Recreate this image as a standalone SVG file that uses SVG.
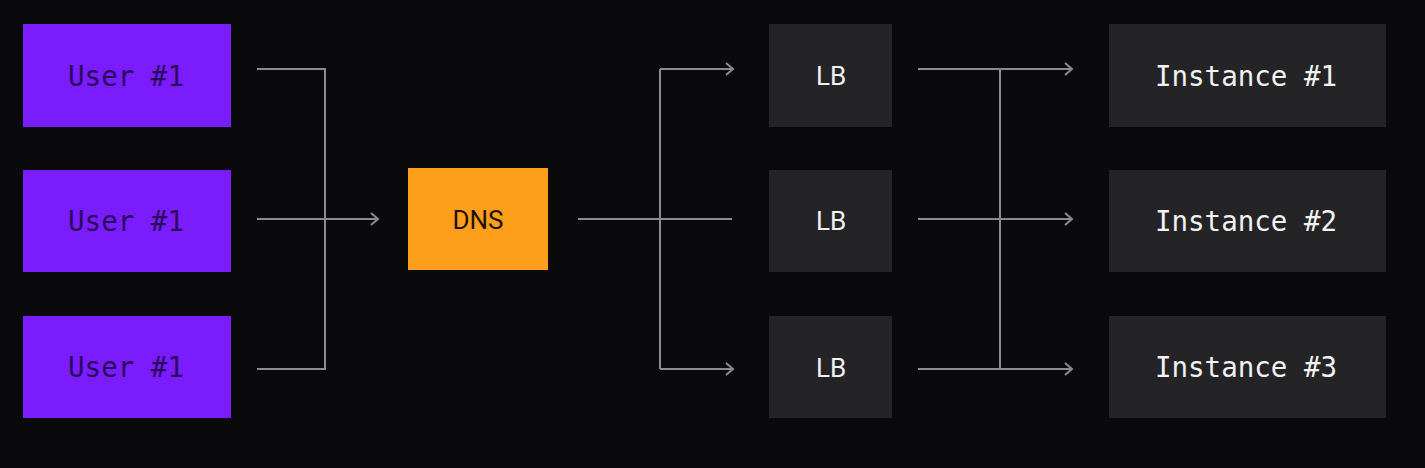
<svg xmlns="http://www.w3.org/2000/svg" width="1425" height="468" viewBox="0 0 1425 468">
<style>
.user rect{fill:#7a1cfc}
.user text{fill:#2a0b5c;font-family:"DejaVu Sans Mono","Liberation Mono",monospace;font-size:27.5px;text-anchor:middle}
.dns rect{fill:#fe9f1b}
.dns text{fill:#1c1208;font-family:Roboto,"Liberation Sans",sans-serif;font-size:26px;text-anchor:middle}
.lb rect,.inst rect{fill:#242427}
.lb text{fill:#f2f2f2;font-family:Roboto,"Liberation Sans",sans-serif;font-size:26px;text-anchor:middle}
.inst text{fill:#f2f2f2;font-family:"DejaVu Sans Mono","Liberation Mono",monospace;font-size:27.5px;text-anchor:middle}
#connectors path{fill:none;stroke:#8c8c8e;stroke-width:2}
#connectors path.arr{marker-end:url(#ah)}
</style>
<defs>
<marker id="ah" viewBox="0 0 12 14" refX="10" refY="7" markerWidth="12" markerHeight="14" markerUnits="userSpaceOnUse" orient="auto">
<path d="M3 1 L10 7 L3 13" fill="none" stroke="#8c8c8e" stroke-width="2"/>
</marker>
</defs>
<rect width="1425" height="468" fill="#0a0a0c"/>
<g id="connectors">
<path d="M257 69 H325 V369 H257"/>
<path class="arr" d="M257 219 H378"/>
<path d="M578 219 H732"/>
<path d="M660 69 V369"/>
<path class="arr" d="M660 69 H733"/>
<path class="arr" d="M660 369 H733"/>
<path d="M1000 69 V369"/>
<path class="arr" d="M918 69 H1072"/>
<path class="arr" d="M918 219 H1072"/>
<path class="arr" d="M918 369 H1072"/>
</g>
<g id="user1" class="user"><rect x="23" y="24" width="208" height="103"/><text x="126" y="86">User #1</text></g>
<g id="user2" class="user"><rect x="23" y="170" width="208" height="102"/><text x="126" y="231">User #1</text></g>
<g id="user3" class="user"><rect x="23" y="316" width="208" height="102"/><text x="126" y="377">User #1</text></g>
<g id="dns" class="dns"><rect x="408" y="168" width="140" height="102"/><text x="478" y="229">DNS</text></g>
<g id="lb1" class="lb"><rect x="769" y="24" width="123" height="103"/><text x="831" y="85">LB</text></g>
<g id="lb2" class="lb"><rect x="769" y="170" width="123" height="102"/><text x="831" y="230">LB</text></g>
<g id="lb3" class="lb"><rect x="769" y="316" width="123" height="102"/><text x="831" y="377">LB</text></g>
<g id="inst1" class="inst"><rect x="1109" y="24" width="277" height="103"/><text x="1246" y="86">Instance #1</text></g>
<g id="inst2" class="inst"><rect x="1109" y="170" width="277" height="102"/><text x="1246" y="231">Instance #2</text></g>
<g id="inst3" class="inst"><rect x="1109" y="316" width="277" height="102"/><text x="1246" y="377">Instance #3</text></g>
</svg>
